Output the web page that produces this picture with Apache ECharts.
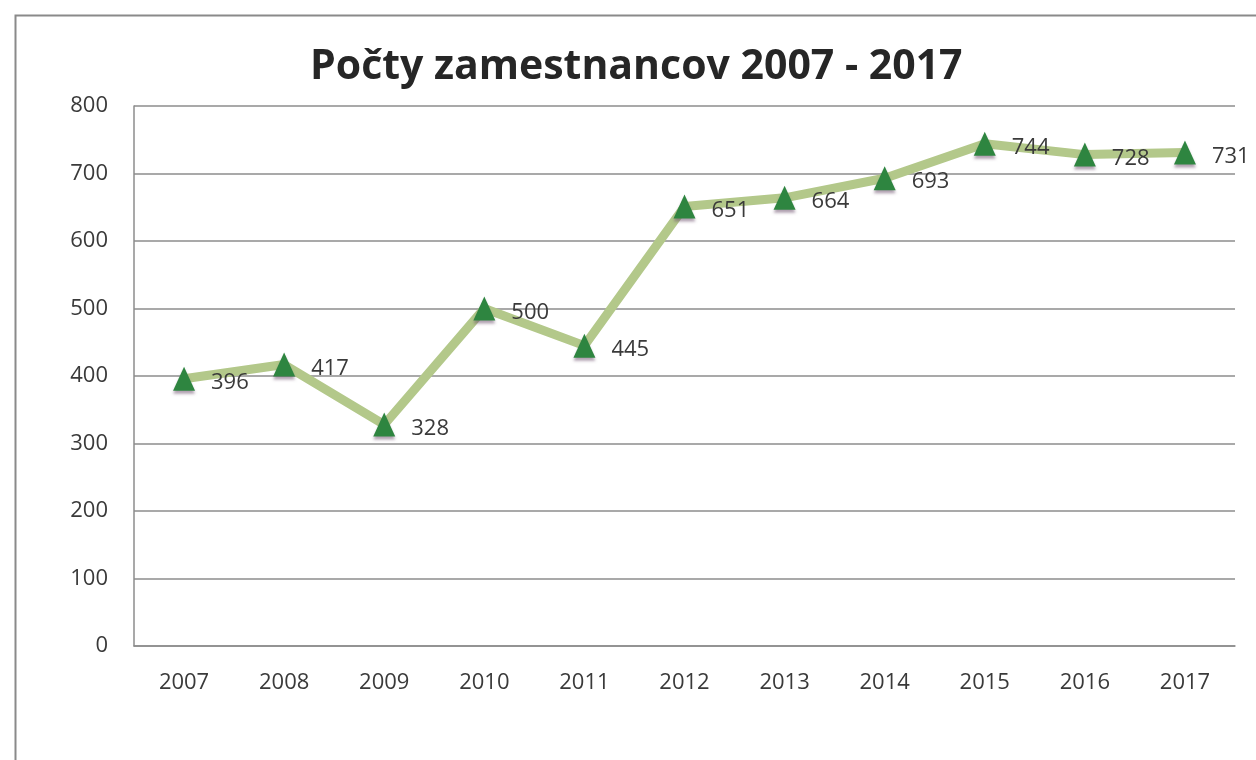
<!DOCTYPE html>
<html><head><meta charset="utf-8">
<script src="https://cdn.jsdelivr.net/npm/echarts@6/dist/echarts.min.js"></script>
<style>html,body{margin:0;padding:0;background:#fff}#c{width:1256px;height:760px}</style>
</head><body><div id="c"></div>
<script>
const titleText = 'Počty zamestnancov 2007 - 2017';
const years = ['2007','2008','2009','2010','2011','2012','2013','2014','2015','2016','2017'];
const employees = [396, 417, 328, 500, 445, 651, 664, 693, 744, 728, 731];
const yTicks = [0, 100, 200, 300, 400, 500, 600, 700, 800];

const chart = echarts.init(document.getElementById('c'));
const font = '"Open Sans", sans-serif';
chart.setOption({
  animation: false,
  backgroundColor: '#fff',
  graphic: [{
    type: 'rect', left: 13, top: 13,
    shape: { width: 1300, height: 800 },
    style: { fill: 'none', stroke: '#8a8a8a', lineWidth: 2 }
  }],
  title: {
    text: titleText, left: 310, top: 47, padding: 0,
    textStyle: { fontFamily: font, fontWeight: 'bold', fontSize: 41, color: '#262626' }
  },
  grid: { left: 134, right: 21, top: 106, bottom: 114 },
  xAxis: {
    type: 'category', data: years, boundaryGap: true,
    axisLine: { lineStyle: { color: '#8c8c8c', width: 1.5 } },
    axisTick: { show: false },
    axisLabel: { fontFamily: font, fontSize: 22, color: '#3a3a3a', margin: 26 }
  },
  yAxis: {
    type: 'value', min: yTicks[0], max: yTicks[yTicks.length - 1], interval: 100,
    axisLine: { show: true, lineStyle: { color: '#8c8c8c', width: 1.5 } },
    axisTick: { show: false },
    splitLine: { lineStyle: { color: '#8c8c8c', width: 1.5 } },
    axisLabel: { fontFamily: font, fontSize: 22, color: '#3a3a3a', margin: 26 }
  },
  series: [{
    type: 'line', data: employees,
    lineStyle: { color: '#b3c88a', width: 9 },
    symbol: 'triangle', symbolSize: [22, 24],
    itemStyle: { color: '#2e8540', shadowColor: 'rgba(110,80,110,0.55)', shadowBlur: 3, shadowOffsetY: 3 },
    label: {
      show: true, position: 'right', distance: 16, offset: [0, 4],
      fontFamily: font, fontSize: 22, color: '#3a3a3a'
    }
  }]
});
</script></body></html>
